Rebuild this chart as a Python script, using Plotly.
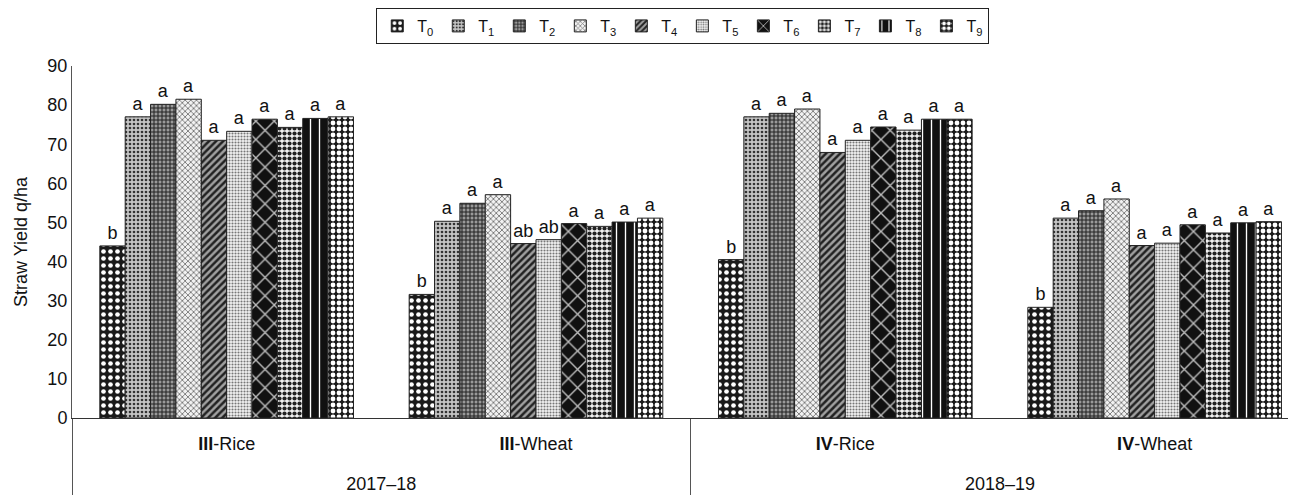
import plotly.graph_objects as go

# ---- data ----
seasons = ["2017–18", "2017–18", "2018–19", "2018–19"]
crops = ["<b>III</b>-Rice", "<b>III</b>-Wheat", "<b>IV</b>-Rice", "<b>IV</b>-Wheat"]
treatments = ["T0", "T1", "T2", "T3", "T4", "T5", "T6", "T7", "T8", "T9"]
legend_names = ["T<sub>%d</sub>" % i for i in range(10)]

T0 = [44.0, 31.6, 40.5, 28.3]
T1 = [77.0, 50.3, 77.0, 51.1]
T2 = [80.2, 54.9, 77.9, 53.0]
T3 = [81.5, 57.1, 79.0, 56.0]
T4 = [71.0, 44.6, 67.9, 44.1]
T5 = [73.3, 45.6, 71.0, 44.7]
T6 = [76.4, 49.7, 74.4, 49.4]
T7 = [74.3, 49.0, 73.6, 47.3]
T8 = [76.6, 50.1, 76.4, 49.9]
T9 = [77.0, 51.1, 76.4, 50.2]
values = [T0, T1, T2, T3, T4, T5, T6, T7, T8, T9]

letters = [
    ["b", "b", "b", "b"],
    ["a", "a", "a", "a"],
    ["a", "a", "a", "a"],
    ["a", "a", "a", "a"],
    ["a", "ab", "a", "a"],
    ["a", "ab", "a", "a"],
    ["a", "a", "a", "a"],
    ["a", "a", "a", "a"],
    ["a", "a", "a", "a"],
    ["a", "a", "a", "a"],
]

# ---- styles (pattern shape, fg, bg, size, solidity) ----
styles = [
    (".", "#ffffff", "#1a1a1a", 7, 0.35),
    (".", "#333333", "#c4c4c4", 4, 0.35),
    ("+", "#222222", "#9a9a9a", 4, 0.45),
    ("x", "#777777", "#f2f2f2", 4, 0.4),
    ("/", "#222222", "#a0a0a0", 5, 0.5),
    (".", "#777777", "#f4f4f4", 3, 0.4),
    ("x", "#bdbdbd", "#111111", 13, 0.2),
    (".", "#222222", "#f0f0f0", 5, 0.55),
    ("|", "#ffffff", "#111111", 9, 0.15),
    (".", "#ffffff", "#1a1a1a", 6, 0.5),
]

FONT = "Liberation Sans, Arial, Helvetica, sans-serif"

# primary labels get a blank second line so the season row sits lower
crop_labels = [c + "<br><span style='font-size:39px'> </span>" for c in crops]

fig = go.Figure()
for i, t in enumerate(treatments):
    shape, fg, bg, sz, sol = styles[i]
    fig.add_trace(go.Bar(
        name=legend_names[i],
        x=[seasons, crop_labels],
        y=values[i],
        text=letters[i],
        textposition="outside",
        textfont=dict(size=18, color="#111111", family=FONT),
        cliponaxis=False,
        marker=dict(
            color=bg,
            line=dict(color="#222222", width=1),
            pattern=dict(shape=shape, fgcolor=fg, bgcolor=bg, size=sz,
                         solidity=sol, fillmode="replace"),
        ),
    ))

# page body adds an 8px offset; the figure is sized to fill the rest
fig.update_layout(
    width=1288, height=489,
    barmode="group",
    bargap=0.18,
    bargroupgap=0,
    plot_bgcolor="white",
    paper_bgcolor="white",
    font=dict(family=FONT, size=18, color="#111111"),
    margin=dict(l=64, r=0, t=58, b=79, autoexpand=False),
    legend=dict(
        orientation="h",
        x=0.499, xref="paper", xanchor="center",
        y=1.0, yref="container", yanchor="top",
        bordercolor="#222222", borderwidth=1,
        font=dict(size=16, family=FONT),
        itemwidth=30,
        tracegroupgap=0,
        bgcolor="white",
    ),
)

fig.update_yaxes(
    range=[0, 90],
    dtick=10,
    showgrid=False,
    zeroline=False,
    showline=True,
    linecolor="#555555",
    linewidth=1,
    ticks="",
    automargin=False,
    tickfont=dict(size=18),
    title=dict(text="Straw Yield q/ha", font=dict(size=18), standoff=15),
)

fig.update_xaxes(
    type="multicategory",
    range=[-0.5, 3.457],
    showgrid=False,
    showline=True,
    linecolor="#333333",
    linewidth=1,
    ticks="",
    automargin=False,
    ticklabelstandoff=9,
    tickfont=dict(size=18),
    showdividers=True,
    dividercolor="#555555",
    dividerwidth=1,
)

fig.write_html("out.html")
